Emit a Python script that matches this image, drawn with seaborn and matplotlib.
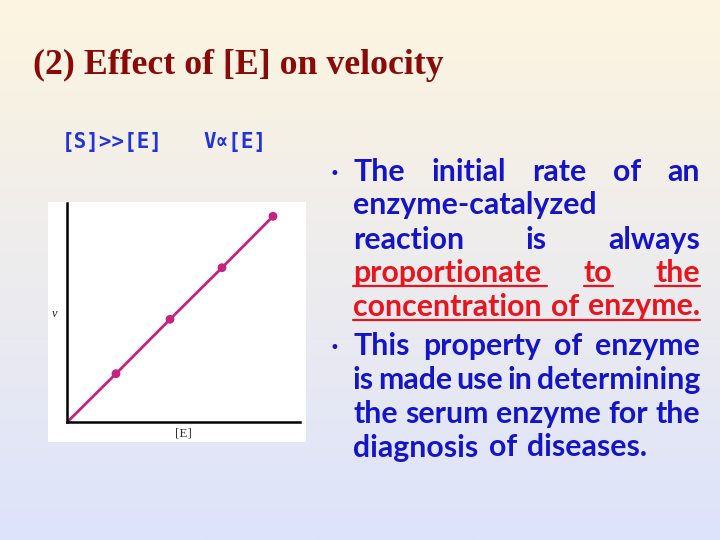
import numpy as np
import matplotlib
matplotlib.use("Agg")
import matplotlib.pyplot as plt
import seaborn as sns
import pandas as pd
from matplotlib.patches import Rectangle
from matplotlib.lines import Line2D

# ---- data ----
conc_E = [49, 103, 155, 206]          # [E] (arbitrary units)
velocity = [48.6, 103, 154.6, 206]    # v (arbitrary units)
title_text = "(2) Effect of [E] on velocity"
cond1 = "[S]>>[E]"
cond2 = "V\u221d[E]"
xlabel = "[E]"
ylabel = "v"
bullet_lines = [
    (["The", "initial", "rate", "of", "an"], "blue", True, False, True),
    (["enzyme-catalyzed"], "blue", False, False, False),
    (["reaction", "is", "always"], "blue", True, False, False),
    (["proportionate", "to", "the"], "red", True, "words", False),
    (["concentration", "of", "enzyme."], "red", True, "line", False),
    (["This", "property", "of", "enzyme"], "blue", True, False, True),
    (["is", "made", "use", "in", "determining"], "blue", True, False, False),
    (["the", "serum", "enzyme", "for", "the"], "blue", True, False, False),
    (["diagnosis", "of", "diseases."], "blue", False, False, False),
]
baselines = [181, 214.5, 248.5, 282, 315.5, 355, 389, 423, 456.5]

sns.set_theme(style="white")
W, H = 720, 540
fig = plt.figure(figsize=(7.2, 5.4), dpi=100)

# background gradient
bg = fig.add_axes([0, 0, 1, 1], zorder=-10)
top = np.array([253, 245, 224]) / 255
bot = np.array([221, 227, 251]) / 255
t = np.linspace(0, 1, 256)[:, None]
grad = (top[None, :] * (1 - t) + bot[None, :] * t)[:, None, :]
bg.imshow(grad, aspect="auto", extent=[0, 1, 0, 1], origin="upper")
bg.set_axis_off()

def fx(px):
    return px / W
def fy(py):
    return 1 - py / H

# white inset box
fig.patches.append(Rectangle((fx(48), fy(442)), 258 / W, 240 / H,
                             transform=fig.transFigure, facecolor="white",
                             edgecolor="none", zorder=-5))

ax = fig.add_axes([fx(67), fy(422.3), (300 - 67) / W, (422.3 - 202.7) / H])
ax.set_facecolor("none")
line_df = pd.DataFrame({"E": [0] + conc_E, "v": [0] + velocity})
pts_df = pd.DataFrame({"E": conc_E, "v": velocity})
mag = "#c4237f"
sns.lineplot(data=line_df, x="E", y="v", ax=ax, color=mag, lw=2.0)
sns.scatterplot(data=pts_df, x="E", y="v", ax=ax, color=mag, s=40,
                edgecolor="none", zorder=5)
ax.set_xlim(0, 233)
ax.set_ylim(0, 219.6)
ax.set_xticks([]); ax.set_yticks([])
ax.set_xlabel(""); ax.set_ylabel("")
for s in ["top", "right"]:
    ax.spines[s].set_visible(False)
for s in ["left", "bottom"]:
    ax.spines[s].set_color("black")
    ax.spines[s].set_linewidth(1.8)

fig.text(fx(55), fy(314), ylabel, family="Liberation Serif", style="italic",
         fontsize=9, color="#222222", ha="center", va="center")
fig.text(fx(183), fy(434), xlabel, family="Liberation Serif",
         fontsize=9.5, color="#333333", ha="center", va="center")

fig.canvas.draw()
renderer = fig.canvas.get_renderer()

def width_of(s, **kw):
    tt = fig.text(0, 0, s, **kw)
    w = tt.get_window_extent(renderer).width
    tt.remove()
    return w

# title
tkw = dict(family="Liberation Serif", weight="bold")
ts = 22 * 410 / width_of(title_text, fontsize=22, **tkw)
fig.text(fx(33), fy(74.5), title_text, fontsize=ts, color="#8a0a0a",
         ha="left", va="baseline", **tkw)

# conditions
ckw = dict(family=["DejaVu Sans Mono", "DejaVu Sans"], weight="bold")
cs = 15 * 101 / width_of(cond1, fontsize=15, **ckw)
fig.text(fx(62), fy(148), cond1, fontsize=cs, color="#2233dd",
         ha="left", va="baseline", **ckw)
fig.text(fx(203), fy(148), cond2, fontsize=cs, color="#2233dd",
         ha="left", va="baseline", **ckw)

# bullet text
bkw = dict(family="Lato", weight="bold")
bs = 18 * 288 / width_of("diagnosis of diseases.", fontsize=18, **bkw)
colors = {"blue": "#1414c8", "red": "#e8141e"}
left, right = 353, 700
space_w = width_of("a a", fontsize=bs, **bkw) - width_of("aa", fontsize=bs, **bkw)
space_w *= 1.4
for (words, col, just, ul, bullet), yb in zip(bullet_lines, baselines):
    c = colors[col]
    ws = [width_of(w, fontsize=bs, **bkw) for w in words]
    if just and len(words) > 1:
        gap = (right - left - sum(ws)) / (len(words) - 1)
    else:
        gap = space_w
    x = left
    starts = []
    for w, wd in zip(words, ws):
        fig.text(fx(x), fy(yb), w, fontsize=bs, color=c, ha="left",
                 va="baseline", **bkw)
        starts.append((x, x + wd))
        x += wd + gap
    uy = yb + 4
    if ul == "words":
        for i, (a, b) in enumerate(starts):
            bb = b + (6 if i == 0 else 0)
            fig.add_artist(Line2D([fx(a), fx(bb)], [fy(uy), fy(uy)], color=c,
                                  lw=1.6, transform=fig.transFigure))
    elif ul == "line":
        fig.add_artist(Line2D([fx(starts[0][0]), fx(starts[-1][1])],
                              [fy(uy), fy(uy)], color=c, lw=1.6,
                              transform=fig.transFigure))
    if bullet:
        fig.text(fx(334), fy(yb - 7), "\u2022", fontsize=bs * 0.55, color=c,
                 ha="center", va="center", family="DejaVu Sans")

fig.savefig("out.png", dpi=100)
